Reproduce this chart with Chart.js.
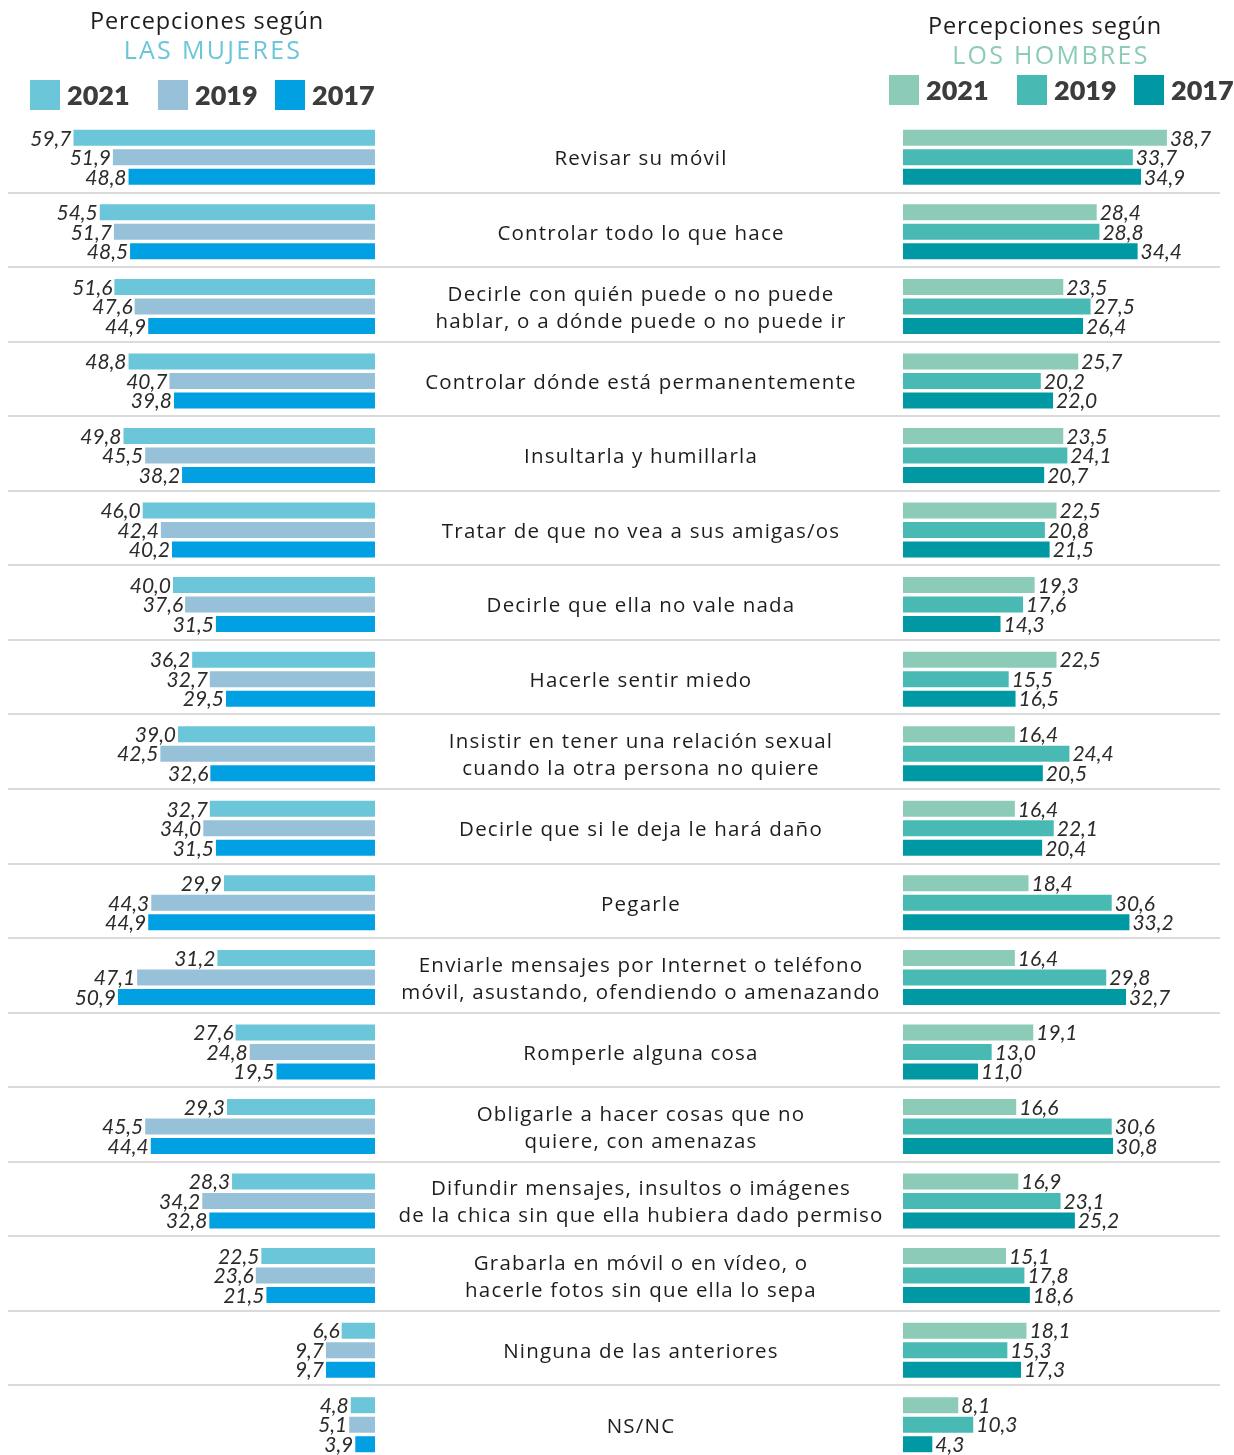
<!DOCTYPE html>
<html lang="es">
<head>
<meta charset="utf-8">
<title>Percepciones según mujeres y hombres</title>
<script src="https://cdn.jsdelivr.net/npm/chart.js@4.4.1/dist/chart.umd.min.js"></script>
<style>
  html, body { margin: 0; padding: 0; background: #fff; width: 1234px; height: 1455px; overflow: hidden; }
  #wrap { position: relative; width: 1234px; height: 1462px; }
  #grafico { position: absolute; left: 0; top: 0; }
  .titulo { position: absolute; width: 400px; text-align: center; font-family: "Open Sans", sans-serif; }
  .titulo .l1 { font-size: 23.5px; font-weight: 400; color: #1d1d1b; letter-spacing: 0.9px; line-height: 29px; }
  .titulo .l2 { font-size: 25px; font-weight: 400; letter-spacing: 2.3px; line-height: 29px; padding-left: 12px; }
  .ley { position: absolute; display: flex; align-items: center; font-family: Lato, sans-serif;
         font-size: 27px; font-weight: 800; color: #3c3c3b; }
  .ley span.caja { display: inline-block; width: 30px; height: 30px; margin-right: 7px; }
</style>
</head>
<body>
<div id="wrap">
  <canvas id="grafico" width="1234" height="1462"></canvas>
</div>
<script>
// categorías (cada una en sus líneas de texto)
const categorias = [
  ['Revisar su móvil'],
  ['Controlar todo lo que hace'],
  ['Decirle con quién puede o no puede', 'hablar, o a dónde puede o no puede ir'],
  ['Controlar dónde está permanentemente'],
  ['Insultarla y humillarla'],
  ['Tratar de que no vea a sus amigas/os'],
  ['Decirle que ella no vale nada'],
  ['Hacerle sentir miedo'],
  ['Insistir en tener una relación sexual', 'cuando la otra persona no quiere'],
  ['Decirle que si le deja le hará daño'],
  ['Pegarle'],
  ['Enviarle mensajes por Internet o teléfono', 'móvil, asustando, ofendiendo o amenazando'],
  ['Romperle alguna cosa'],
  ['Obligarle a hacer cosas que no', 'quiere, con amenazas'],
  ['Difundir mensajes, insultos o imágenes', 'de la chica sin que ella hubiera dado permiso'],
  ['Grabarla en móvil o en vídeo, o', 'hacerle fotos sin que ella lo sepa'],
  ['Ninguna de las anteriores'],
  ['NS/NC']
];

const anios = ['2021', '2019', '2017'];

// percepciones según las mujeres (%)
const mujeres2021 = [59.7, 54.5, 51.6, 48.8, 49.8, 46.0, 40.0, 36.2, 39.0, 32.7, 29.9, 31.2, 27.6, 29.3, 28.3, 22.5, 6.6, 4.8];
const mujeres2019 = [51.9, 51.7, 47.6, 40.7, 45.5, 42.4, 37.6, 32.7, 42.5, 34.0, 44.3, 47.1, 24.8, 45.5, 34.2, 23.6, 9.7, 5.1];
const mujeres2017 = [48.8, 48.5, 44.9, 39.8, 38.2, 40.2, 31.5, 29.5, 32.6, 31.5, 44.9, 50.9, 19.5, 44.4, 32.8, 21.5, 9.7, 3.9];

// percepciones según los hombres (%)
const hombres2021 = [38.7, 28.4, 23.5, 25.7, 23.5, 22.5, 19.3, 22.5, 16.4, 16.4, 18.4, 16.4, 19.1, 16.6, 16.9, 15.1, 18.1, 8.1];
const hombres2019 = [33.7, 28.8, 27.5, 20.2, 24.1, 20.8, 17.6, 15.5, 24.4, 22.1, 30.6, 29.8, 13.0, 30.6, 23.1, 17.8, 15.3, 10.3];
const hombres2017 = [34.9, 34.4, 26.4, 22.0, 20.7, 21.5, 14.3, 16.5, 20.5, 20.4, 33.2, 32.7, 11.0, 30.8, 25.2, 18.6, 17.3, 4.3];

const coloresMujeres = ['#6ac6d8', '#96c1d8', '#00a0e3'];
const coloresHombres = ['#8ccbb8', '#49b9b4', '#0098a3'];

// cabeceras y leyendas
const wrap = document.getElementById('wrap');
function cabecera(x, y, texto, color) {
  const d = document.createElement('div');
  d.className = 'titulo';
  d.style.left = (x - 200) + 'px';
  d.style.top = y + 'px';
  d.innerHTML = '<div class="l1">Percepciones según</div><div class="l2" style="color:' + color + '">' + texto + '</div>';
  wrap.appendChild(d);
}
function leyenda(xs, y, colores) {
  anios.forEach((a, i) => {
    const d = document.createElement('div');
    d.className = 'ley';
    d.style.left = xs[i] + 'px';
    d.style.top = y + 'px';
    d.innerHTML = '<span class="caja" style="background:' + colores[i] + '"></span>' + a;
    wrap.appendChild(d);
  });
}
cabecera(207, 6, 'LAS MUJERES', coloresMujeres[0]);
cabecera(1045, 11, 'LOS HOMBRES', coloresHombres[0]);
leyenda([30, 158, 275], 78, coloresMujeres);
leyenda([889, 1017, 1134], 73, coloresHombres);

const fmt = v => v.toFixed(1).replace('.', ',');

// separadores, textos centrales y valores
const extras = {
  id: 'extras',
  afterDatasetsDraw(chart) {
    const ctx = chart.ctx;
    const yS = chart.scales.y;
    const area = chart.chartArea;
    ctx.save();
    ctx.strokeStyle = '#dadada';
    ctx.lineWidth = 2;
    for (let i = 0; i < categorias.length - 1; i++) {
      const yy = Math.round((yS.getPixelForTick(i) + yS.getPixelForTick(i + 1)) / 2) - 2;
      ctx.beginPath();
      ctx.moveTo(area.left, yy);
      ctx.lineTo(area.right, yy);
      ctx.stroke();
    }

    ctx.fillStyle = '#1d1d1b';
    ctx.textAlign = 'center';
    ctx.textBaseline = 'middle';
    ctx.font = '400 20.5px "Open Sans"';
    ctx.letterSpacing = '1.2px';
    categorias.forEach((lineas, i) => {
      const cy = yS.getPixelForTick(i) + 2;
      lineas.forEach((t, k) => {
        ctx.fillText(t, 641, cy + (k - (lineas.length - 1) / 2) * 27);
      });
    });

    ctx.font = 'italic 400 21px Lato';
    ctx.letterSpacing = '0px';
    ctx.fillStyle = '#2b2b2a';
    chart.data.datasets.forEach((ds, di) => {
      const meta = chart.getDatasetMeta(di);
      const izq = ds.xAxisID === 'xm';
      ctx.textAlign = izq ? 'right' : 'left';
      meta.data.forEach((bar, j) => {
        ctx.fillText(fmt(ds.data[j]), izq ? bar.x - 2 : bar.x + 3, bar.y + 1);
      });
    });
    ctx.restore();
  }
};

const datasets = [];
[mujeres2021, mujeres2019, mujeres2017].forEach((d, i) => {
  datasets.push({ label: 'Mujeres ' + anios[i], data: d, xAxisID: 'xm', stack: anios[i],
                  backgroundColor: coloresMujeres[i], borderWidth: 0 });
});
[hombres2021, hombres2019, hombres2017].forEach((d, i) => {
  datasets.push({ label: 'Hombres ' + anios[i], data: d, xAxisID: 'xh', stack: anios[i],
                  backgroundColor: coloresHombres[i], borderWidth: 0 });
});

new Chart(document.getElementById('grafico'), {
  type: 'bar',
  data: { labels: categorias.map(c => c.join(' ')), datasets: datasets },
  options: {
    indexAxis: 'y',
    responsive: false,
    animation: false,
    categoryPercentage: 0.785,
    barPercentage: 0.82,
    layout: { padding: { left: 8, right: 14, top: 120, bottom: 0 } },
    scales: {
      y: { display: false },
      // mujeres: el cero queda en x=375 y crece hacia la izquierda
      xm: { type: 'linear', display: false, reverse: true, stacked: false, min: -167.33, max: 72.67 },
      // hombres: el cero queda en x=903 y crece hacia la derecha
      xh: { type: 'linear', display: false, stacked: false, min: -131.23, max: 46.48 }
    },
    plugins: { legend: { display: false }, tooltip: { enabled: false } }
  },
  plugins: [extras]
});
</script>
</body>
</html>
